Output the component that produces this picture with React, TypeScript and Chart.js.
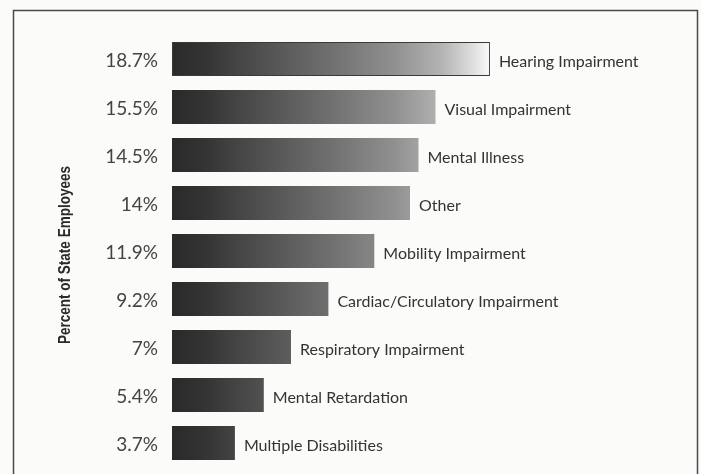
import React, { useEffect, useRef } from 'react';
import { Chart, registerables } from 'chart.js';

Chart.register(...registerables);

const categories = [
  'Hearing Impairment',
  'Visual Impairment',
  'Mental Illness',
  'Other',
  'Mobility Impairment',
  'Cardiac/Circulatory Impairment',
  'Respiratory Impairment',
  'Mental Retardation',
  'Multiple Disabilities',
];
const values = [18.7, 15.5, 14.5, 14, 11.9, 9.2, 7, 5.4, 3.7];
const tickLabels = ['18.7%', '15.5%', '14.5%', '14%', '11.9%', '9.2%', '7%', '5.4%', '3.7%'];
const axisTitle = 'Percent of State Employees';

const BG = '#fbfbf9';

const framePlugin = {
  id: 'frame',
  beforeDraw(chart: any) {
    const c = chart.ctx;
    c.save();
    c.fillStyle = BG;
    c.fillRect(0, 0, chart.width, chart.height);
    c.strokeStyle = '#4a4a4a';
    c.lineWidth = 1.5;
    c.beginPath();
    c.moveTo(13.5, chart.height + 2);
    c.lineTo(13.5, 10.5);
    c.lineTo(697.5, 10.5);
    c.lineTo(697.5, chart.height + 2);
    c.stroke();
    c.restore();
  },
};

const titlePlugin = {
  id: 'narrowTitle',
  afterDraw(chart: any) {
    const c = chart.ctx;
    const area = chart.chartArea;
    const cy = (area.top + area.bottom) / 2 + 4;
    c.save();
    c.font = 'bold 16px "Liberation Sans", Arial, sans-serif';
    const w = c.measureText(axisTitle).width;
    const sx = Math.min(1, 178 / w);
    c.translate(66, cy);
    c.rotate(-Math.PI / 2);
    c.scale(sx, 1);
    c.fillStyle = '#2a2a2a';
    c.textAlign = 'center';
    c.textBaseline = 'middle';
    c.fillText(axisTitle, 0, 0);
    c.restore();
  },
};

const categoryLabelPlugin = {
  id: 'catLabels',
  afterDatasetsDraw(chart: any) {
    const c = chart.ctx;
    const meta = chart.getDatasetMeta(0);
    c.save();
    c.font = '16px Lato, "DejaVu Sans", sans-serif';
    c.fillStyle = '#333';
    c.textAlign = 'left';
    c.textBaseline = 'middle';
    meta.data.forEach((bar: any, i: number) => {
      c.fillText(categories[i], bar.x + 9, bar.y + 2.5);
    });
    c.restore();
  },
};

export default function App() {
  const ref = useRef<HTMLCanvasElement>(null);

  useEffect(() => {
    if (!ref.current) return;
    const maxVal = Math.max(...values);
    const chart = new Chart(ref.current, {
      type: 'bar',
      data: {
        labels: tickLabels,
        datasets: [
          {
            data: values,
            backgroundColor: (ctx: any) => {
              const ch = ctx.chart;
              if (!ch.chartArea) return '#555';
              const x0 = ch.scales.x.getPixelForValue(0);
              const x1 = ch.scales.x.getPixelForValue(maxVal);
              const g = ch.ctx.createLinearGradient(x0, 0, x1, 0);
              g.addColorStop(0, '#2a2a2a');
              g.addColorStop(0.1, '#333333');
              g.addColorStop(0.2, '#444444');
              g.addColorStop(0.5, '#707070');
              g.addColorStop(0.7, '#909090');
              g.addColorStop(0.85, '#b4b4b4');
              g.addColorStop(0.95, '#e0e0e0');
              g.addColorStop(1, '#fafafa');
              return g;
            },
            borderColor: '#3a3a3a',
            borderWidth: (ctx: any) => (values[ctx.dataIndex] === maxVal ? 1 : 0),
            borderSkipped: false,
            barPercentage: 0.71,
            categoryPercentage: 1.0,
          },
        ],
      },
      options: {
        indexAxis: 'y',
        responsive: false,
        animation: false,
        layout: { padding: { top: 35, bottom: 7, right: 19, left: 0 } },
        plugins: {
          legend: { display: false },
          tooltip: { enabled: false },
        },
        scales: {
          x: {
            display: false,
            min: 0,
            max: 30,
          },
          y: {
            type: 'category',
            position: 'left',
            grid: { display: false, drawTicks: false },
            border: { display: false },
            ticks: {
              color: '#444',
              font: { family: 'Lato, "DejaVu Sans", sans-serif', size: 19 },
              padding: 14,
              labelOffset: 2,
            },
            title: { display: false },
            afterFit(scale: any) {
              scale.width = 172;
              scale.paddingTop = 0;
              scale.paddingBottom = 0;
            },
          },
        },
      },
      plugins: [framePlugin, categoryLabelPlugin, titlePlugin],
    } as any);
    return () => chart.destroy();
  }, []);

  return (
    <div style={{ position: 'fixed', left: 0, top: 0, width: 701, height: 474, background: BG }}>
      <canvas ref={ref} width={701} height={474} style={{ display: 'block', width: 701, height: 474 }} />
    </div>
  );
}
